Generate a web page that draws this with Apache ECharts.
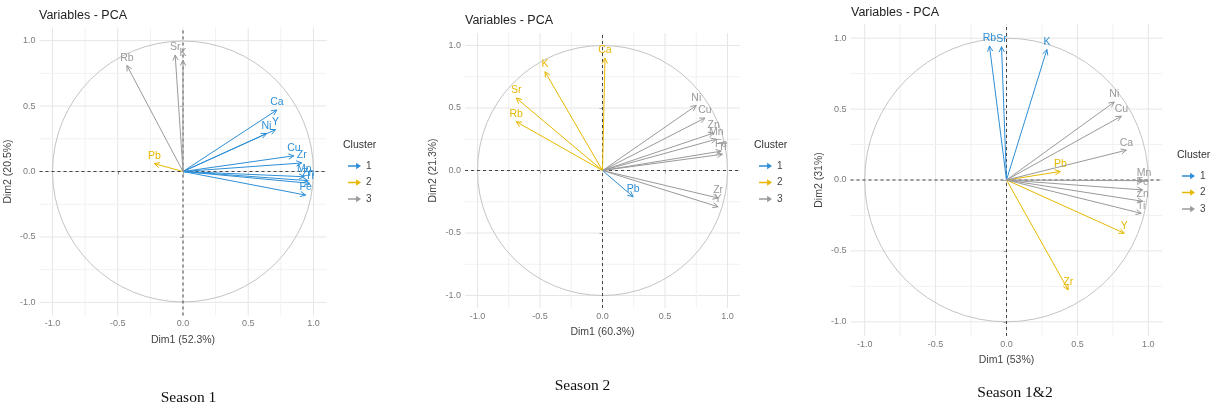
<!DOCTYPE html>
<html>
<head>
<meta charset="utf-8">
<script src="https://cdn.jsdelivr.net/npm/echarts@6/dist/echarts.min.js"></script>
<style>
html,body{margin:0;padding:0;background:#fff;}
#chart{width:1218px;height:408px;}
</style>
</head>
<body>
<div id="chart"></div>
<script>
// ---------------- data ----------------
const clusterNames = ['1', '2', '3'];
const tickLabels = [-1, -0.5, 0, 0.5, 1];
const gridTicks = [-1, -0.75, -0.5, -0.25, 0, 0.25, 0.5, 0.75, 1];

// Season 1
const s1Vars  = ['Rb', 'Sr', 'K', 'Pb', 'Ca', 'Y', 'Ni', 'Cu', 'Zr', 'Mn', 'Zn', 'Ti', 'Fe'];
const s1Dim1  = [-0.43, -0.06, 0.00, -0.22, 0.72, 0.71, 0.64, 0.85, 0.91, 0.93, 0.96, 0.97, 0.94];
const s1Dim2  = [0.81, 0.89, 0.85, 0.06, 0.47, 0.32, 0.29, 0.12, 0.065, -0.04, -0.07, -0.09, -0.18];
const s1Clust = ['3', '3', '3', '2', '1', '1', '1', '1', '1', '1', '1', '1', '1'];

// Season 2
const s2Vars  = ['Ca', 'K', 'Sr', 'Rb', 'Pb', 'Ni', 'Cu', 'Zn', 'Mn', 'Fe', 'Ti', 'Zr', 'Y'];
const s2Dim1  = [0.02, -0.46, -0.69, -0.69, 0.245, 0.75, 0.82, 0.89, 0.91, 0.95, 0.96, 0.925, 0.925];
const s2Dim2  = [0.90, 0.79, 0.58, 0.39, -0.21, 0.52, 0.42, 0.30, 0.25, 0.155, 0.13, -0.22, -0.29];
const s2Clust = ['2', '2', '2', '2', '1', '3', '3', '3', '3', '3', '3', '3', '3'];

// Season 1&2
const s3Vars  = ['Rb', 'Sr', 'K', 'Pb', 'Y', 'Zr', 'Ni', 'Cu', 'Ca', 'Mn', 'Fe', 'Zn', 'Ti'];
const s3Dim1  = [-0.12, -0.035, 0.285, 0.38, 0.83, 0.435, 0.76, 0.81, 0.845, 0.97, 0.96, 0.96, 0.95];
const s3Dim2  = [0.945, 0.94, 0.92, 0.06, -0.375, -0.775, 0.55, 0.45, 0.21, -0.005, -0.07, -0.15, -0.235];
const s3Clust = ['1', '1', '1', '2', '2', '2', '3', '3', '3', '3', '3', '3', '3'];

const dim1Titles = ['Dim1 (52.3%)', 'Dim1 (60.3%)', 'Dim1 (53%)'];
const dim2Titles = ['Dim2 (20.5%)', 'Dim2 (21.3%)', 'Dim2 (31%)'];
const captions = ['Season 1', 'Season 2', 'Season 1&2'];
const panelTitle = 'Variables - PCA';

// ---------------- styles ----------------
const colors = {'1': '#2E8FD6', '2': '#E7B800', '3': '#9A9A9A'};
const SANS = '"Liberation Sans", Arial, sans-serif';
const SERIF = '"Liberation Serif", "Times New Roman", serif';
const AX_MIN = -1.1, AX_MAX = 1.1;

const grids = [
  {left: 39.5, top: 27.5, width: 287, height: 288},
  {left: 465,  top: 33,   width: 275, height: 275},
  {left: 850.5, top: 24,  width: 312, height: 312}
];
const panels = [
  {vars: s1Vars, d1: s1Dim1, d2: s1Dim2, cl: s1Clust},
  {vars: s2Vars, d1: s2Dim1, d2: s2Dim2, cl: s2Clust},
  {vars: s3Vars, d1: s3Dim1, d2: s3Dim2, cl: s3Clust}
];
const titlePos   = [[39, 16], [465, 21], [851, 12.5]];
const clusterPos = [[343, 145], [754, 145], [1177, 155]];
const captionPos = [[188.5, 397.5], [582.5, 386], [1015, 393]];

const xAxes = [], yAxes = [], series = [], legends = [], graphics = [];

grids.forEach((g, gi) => {
  xAxes.push({
    type: 'value', gridIndex: gi, min: AX_MIN, max: AX_MAX,
    name: dim1Titles[gi], nameLocation: 'middle', nameGap: 19,
    nameTextStyle: {fontFamily: SANS, fontSize: 10.5, color: '#444'},
    axisLine: {show: false},
    axisTick: {show: true, customValues: tickLabels, length: 3, lineStyle: {color: '#777'}},
    axisLabel: {customValues: tickLabels, formatter: v => Number(v).toFixed(1), margin: 4,
      fontFamily: SANS, fontSize: 9, color: '#7a7a7a'},
    splitLine: {show: false}
  });
  yAxes.push({
    type: 'value', gridIndex: gi, min: AX_MIN, max: AX_MAX,
    name: dim2Titles[gi], nameLocation: 'middle', nameGap: 26, nameRotate: 90,
    nameTextStyle: {fontFamily: SANS, fontSize: 10.5, color: '#444'},
    axisLine: {show: false},
    axisTick: {show: true, customValues: tickLabels, length: 3, lineStyle: {color: '#777'}},
    axisLabel: {customValues: tickLabels, formatter: v => Number(v).toFixed(1), margin: 4,
      fontFamily: SANS, fontSize: 9, color: '#7a7a7a'},
    splitLine: {show: false}
  });

  // frame: grid lines, dashed zero lines, unit circle
  series.push({
    type: 'custom', name: 'frame' + gi, xAxisIndex: gi, yAxisIndex: gi, silent: true,
    data: [[0, 0, 1]], z: 1,
    renderItem: (params, api) => {
      const children = [];
      gridTicks.forEach(t => {
        const major = Math.abs(t * 2 - Math.round(t * 2)) < 1e-9;
        const col = major ? '#e6e6e6' : '#f1f1f1';
        const a = api.coord([t, AX_MIN]), b = api.coord([t, AX_MAX]);
        children.push({type: 'line', shape: {x1: a[0], y1: a[1], x2: b[0], y2: b[1]},
          style: {stroke: col, lineWidth: 1}});
        const c = api.coord([AX_MIN, t]), d = api.coord([AX_MAX, t]);
        children.push({type: 'line', shape: {x1: c[0], y1: c[1], x2: d[0], y2: d[1]},
          style: {stroke: col, lineWidth: 1}});
      });
      const ctr = api.coord([api.value(0), api.value(1)]);
      const r = api.coord([api.value(2), 0])[0] - ctr[0];
      children.push({type: 'circle', shape: {cx: ctr[0], cy: ctr[1], r: r},
        style: {fill: 'none', stroke: '#c4c4c4', lineWidth: 1}});
      const v1 = api.coord([0, AX_MIN]), v2 = api.coord([0, AX_MAX]);
      const h1 = api.coord([AX_MIN, 0]), h2 = api.coord([AX_MAX, 0]);
      children.push({type: 'line', shape: {x1: v1[0], y1: v1[1], x2: v2[0], y2: v2[1]},
        style: {stroke: '#444', lineWidth: 1, lineDash: [3, 3]}});
      children.push({type: 'line', shape: {x1: h1[0], y1: h1[1], x2: h2[0], y2: h2[1]},
        style: {stroke: '#444', lineWidth: 1, lineDash: [3, 3]}});
      return {type: 'group', children};
    }
  });

  const p = panels[gi];
  clusterNames.forEach(cn => {
    const idx = p.vars.map((v, i) => i).filter(i => p.cl[i] === cn);
    const names = idx.map(i => p.vars[i]);
    const data = idx.map(i => [p.d1[i], p.d2[i]]);
    const col = colors[cn];
    series.push({
      type: 'custom', name: cn, xAxisIndex: gi, yAxisIndex: gi, z: 3,
      itemStyle: {color: col},
      data: data,
      renderItem: (params, api) => {
        const tip = api.coord([api.value(0), api.value(1)]);
        const o = api.coord([0, 0]);
        const ang = Math.atan2(tip[1] - o[1], tip[0] - o[0]);
        const L = 6, s = 0.45;
        const a1 = [tip[0] - L * Math.cos(ang - s), tip[1] - L * Math.sin(ang - s)];
        const a2 = [tip[0] - L * Math.cos(ang + s), tip[1] - L * Math.sin(ang + s)];
        return {type: 'group', children: [
          {type: 'line', shape: {x1: o[0], y1: o[1], x2: tip[0], y2: tip[1]},
            style: {stroke: col, lineWidth: 1}},
          {type: 'polyline', shape: {points: [a1, tip, a2]},
            style: {stroke: col, fill: null, lineWidth: 1}},
          {type: 'text', x: tip[0], y: tip[1] - 2,
            style: {text: names[params.dataIndex], fill: col, align: 'center', verticalAlign: 'bottom',
              font: '10.5px ' + SANS}}
        ]};
      }
    });
  });

  legends.push({
    data: clusterNames, orient: 'vertical',
    left: clusterPos[gi][0], top: clusterPos[gi][1] + 10,
    icon: 'path://M0,4 L10,4 L10,1 L16,5 L10,9 L10,6 L0,6 Z',
    itemWidth: 13, itemHeight: 7, itemGap: 4.5, selectedMode: false,
    textStyle: {fontFamily: SANS, fontSize: 10, color: '#444', lineHeight: 12}
  });

  graphics.push({type: 'text', x: titlePos[gi][0], y: titlePos[gi][1],
    style: {text: panelTitle, font: '12.5px ' + SANS, fill: '#222', verticalAlign: 'middle'}});
  graphics.push({type: 'text', x: clusterPos[gi][0], y: clusterPos[gi][1],
    style: {text: 'Cluster', font: '10.5px ' + SANS, fill: '#333', verticalAlign: 'middle'}});
  graphics.push({type: 'text', x: captionPos[gi][0], y: captionPos[gi][1],
    style: {text: captions[gi], font: '15.5px ' + SERIF, fill: '#111', align: 'center', verticalAlign: 'middle'}});
});

const chart = echarts.init(document.getElementById('chart'), null, {renderer: 'canvas'});
chart.setOption({
  animation: false,
  backgroundColor: '#fff',
  grid: grids.map(g => Object.assign({containLabel: false}, g)),
  xAxis: xAxes,
  yAxis: yAxes,
  legend: legends,
  series: series,
  graphic: graphics
});
</script>
</body>
</html>
